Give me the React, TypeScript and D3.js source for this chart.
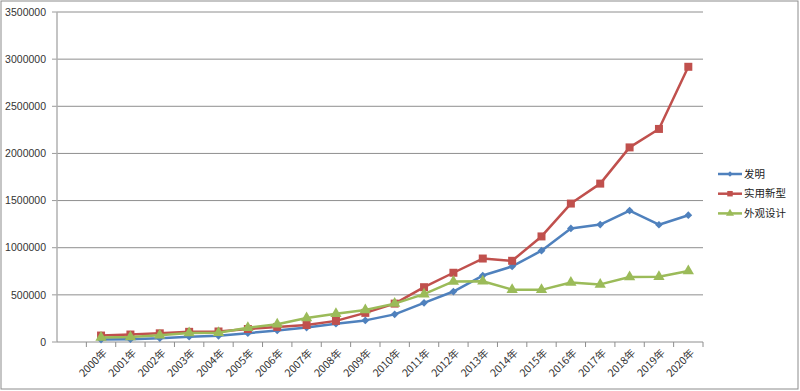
import * as d3 from "d3";
import React from "react";

const years = [
  "2000年", "2001年", "2002年", "2003年", "2004年", "2005年", "2006年",
  "2007年", "2008年", "2009年", "2010年", "2011年", "2012年", "2013年",
  "2014年", "2015年", "2016年", "2017年", "2018年", "2019年", "2020年",
];
// first band of the axis is empty in the original
const categories = ["", ...years];

const invention = [
  25592, 30038, 39806, 56769, 65786, 93485, 122318, 153060, 194579, 229096,
  293066, 415829, 535313, 704936, 801135, 968251, 1204981, 1245709, 1393815,
  1243568, 1344817,
];
const utility = [
  68461, 79275, 92166, 107842, 111578, 138085, 159997, 179999, 223945, 308861,
  407238, 581303, 734437, 885226, 861053, 1119714, 1468295, 1679807, 2063860,
  2259765, 2918874,
];
const design = [
  46532, 53413, 71361, 95289, 97395, 151587, 188027, 253675, 300129, 339654,
  407209, 507538, 642401, 644398, 555000, 553000, 631949, 610817, 689097,
  691771, 752339,
];
const yTicks = [0, 500000, 1000000, 1500000, 2000000, 2500000, 3000000, 3500000];

const series = [
  { name: "发明", values: invention, color: "#4F81BD", shape: "diamond" },
  { name: "实用新型", values: utility, color: "#C0504D", shape: "square" },
  { name: "外观设计", values: design, color: "#9BBB59", shape: "triangle" },
];

const W = 800;
const H = 391;
const left = 57, right = 703, top = 12, bottom = 342;
const numFont = "'Liberation Sans', Arial, sans-serif";
const cjkFont = "'Noto Sans CJK SC', 'Liberation Sans', sans-serif";

function marker(shape: string, size: number) {
  if (shape === "diamond") return d3.symbol(d3.symbolSquare, size)();
  if (shape === "square") return d3.symbol(d3.symbolSquare, size)();
  return d3.symbol(d3.symbolTriangle, size)();
}

export default function App() {
  const x = d3.scaleBand<string>().domain(categories).range([left, right]).padding(0);
  const y = d3.scaleLinear().domain([0, 3500000]).range([bottom, top]);
  const cx = (c: string) => (x(c) as number) + x.bandwidth() / 2;

  const line = d3
    .line<number>()
    .x((_, i) => cx(years[i]))
    .y((d) => y(d));

  return (
    <svg
      width={W}
      height={H}
      style={{ position: "absolute", left: 0, top: 0, display: "block", background: "#fff" }}
    >
      <rect x={1} y={1} width={W - 3} height={H - 3} fill="#fff" stroke="#8c8c8c" />

      {/* gridlines and y labels */}
      {yTicks.map((t) => (
        <g key={t}>
          {t > 0 && (
            <line x1={left} x2={right} y1={y(t)} y2={y(t)} stroke="#8e8e8e" strokeWidth={1} />
          )}
          <line x1={left - 5} x2={left} y1={y(t)} y2={y(t)} stroke="#9a9a9a" />
          <text
            x={46}
            y={y(t)}
            dy="0.35em"
            textAnchor="end"
            fontFamily={numFont}
            fontSize={10.5}
            fill="#333"
          >
            {t}
          </text>
        </g>
      ))}

      {/* axes */}
      <line x1={left} x2={left} y1={top} y2={bottom} stroke="#b0b0b0" strokeWidth={1.5} />
      <line x1={left} x2={right} y1={bottom} y2={bottom} stroke="#8e8e8e" />
      {categories.map((c) => (
        <line
          key={"t" + c}
          x1={(x(c) as number) + x.bandwidth()}
          x2={(x(c) as number) + x.bandwidth()}
          y1={bottom}
          y2={bottom + 5}
          stroke="#8e8e8e"
        />
      ))}
      {years.map((c) => (
        <text
          key={"l" + c}
          transform={`translate(${cx(c) + 4},${bottom + 9}) rotate(-45)`}
          textAnchor="end"
          dy="0.35em"
          fontFamily={cjkFont}
          fontSize={10.5}
          fill="#333"
        >
          {c}
        </text>
      ))}

      {/* series */}
      {series.map((s) => (
        <g key={s.name}>
          <path d={line(s.values) ?? ""} fill="none" stroke={s.color} strokeWidth={2.5} strokeLinejoin="round" />
          {s.values.map((v, i) => (
            <path
              key={i}
              d={marker(s.shape, s.shape === "diamond" ? 30 : s.shape === "square" ? 64 : 55) ?? ""}
              transform={`translate(${cx(years[i])},${y(v)})${s.shape === "diamond" ? " rotate(45)" : ""}`}
              fill={s.color}
            />
          ))}
        </g>
      ))}

      {/* legend */}
      {series.map((s, i) => {
        const ly = 174 + i * 19.7;
        return (
          <g key={"lg" + s.name}>
            <line x1={718} x2={742} y1={ly} y2={ly} stroke={s.color} strokeWidth={2.5} />
            <path
              d={marker(s.shape, s.shape === "diamond" ? 14 : s.shape === "square" ? 30 : 28) ?? ""}
              transform={`translate(730,${ly})${s.shape === "diamond" ? " rotate(45)" : ""}`}
              fill={s.color}
            />
            <text
              x={744}
              y={ly}
              dy="0.35em"
              fontFamily={cjkFont}
              fontSize={10.5}
              fill="#222"
            >
              {s.name}
            </text>
          </g>
        );
      })}
    </svg>
  );
}
